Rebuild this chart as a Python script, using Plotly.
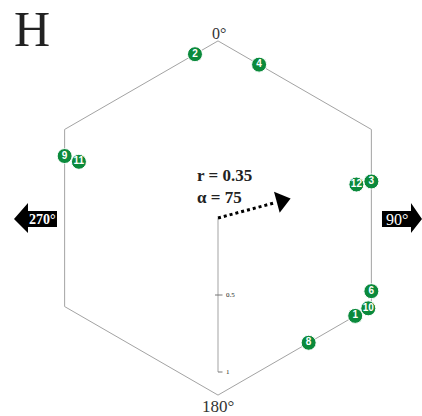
import numpy as np
import plotly.graph_objects as go

# sample numbers and their azimuths (degrees, clockwise from north)
labels = ["1", "2", "3", "4", "6", "8", "9", "10", "11", "12"]
azimuths = [125.5, 352, 76.6, 15, 115.5, 144, 292, 121, 292, 76.4]

# mean vector
mean_r = 0.35
mean_alpha = 75

# radial scale ticks
radial_ticks = [0.5, 1]
radial_tick_text = ["0.5", "1"]

# cardinal labels
cardinal_text = ["0°", "90°", "180°", "270°"]

W, H = 422, 416
SCALE = 154.0          # px per radial unit
CX, CY = 218, 218      # plot centre in px
HEX_R = 1.15           # hexagon circumradius (radial units)
ARROW_LEN = 0.48       # drawn length of the mean vector
GREEN = "#0b8a3c"
GREY = "#a3a3a3"


def px(x):
    return (x - CX) / SCALE


def py(y):
    return (CY - y) / SCALE


def edge_radius(az):
    d = (az % 60) - 30
    return HEX_R * np.cos(np.radians(30)) / np.cos(np.radians(d))


def main():
    fig = go.Figure()

    # hexagon outline
    ang = np.radians(np.arange(0, 361, 60))
    fig.add_trace(go.Scatter(
        x=HEX_R * np.sin(ang), y=HEX_R * np.cos(ang), mode="lines",
        line=dict(color=GREY, width=1), hoverinfo="skip"))

    # radial scale pointing to 180
    fig.add_trace(go.Scatter(
        x=[0, 0], y=[0, -max(radial_ticks)], mode="lines",
        line=dict(color=GREY, width=1), hoverinfo="skip"))
    tick = 3 / SCALE
    for t, txt in zip(radial_ticks, radial_tick_text):
        x0 = -tick if t < max(radial_ticks) else 0
        fig.add_shape(type="line", x0=x0, x1=tick * 1.5, y0=-t, y1=-t,
                      line=dict(color="#777", width=1))
        fig.add_annotation(x=tick * 2, y=-t, text=txt, showarrow=False,
                           xanchor="left", yanchor="middle",
                           font=dict(family="Liberation Serif", size=7, color="#222"))

    # sample points on the hexagon, stacked inward where they coincide
    xs, ys = [], []
    for i, az in enumerate(azimuths):
        level = sum(1 for a in azimuths[:i] if abs(a - az) < 3)
        r = edge_radius(az) - level * 0.1
        xs.append(r * np.sin(np.radians(az)))
        ys.append(r * np.cos(np.radians(az)))
    fig.add_trace(go.Scatter(
        x=xs, y=ys, mode="markers+text", text=labels,
        textposition="middle center",
        textfont=dict(family="Liberation Sans", size=10, color="white", weight="bold"),
        marker=dict(size=15, color=GREEN, line=dict(color="white", width=1)),
        hoverinfo="skip"))

    # mean vector: dotted shaft and head
    a = np.radians(mean_alpha)
    ux, uy = np.sin(a), np.cos(a)
    head = 15 / SCALE
    fig.add_trace(go.Scatter(
        x=[0, ux * (ARROW_LEN - head)], y=[0, uy * (ARROW_LEN - head)],
        mode="lines", line=dict(color="black", width=3, dash="dot"),
        hoverinfo="skip"))
    fig.add_trace(go.Scatter(
        x=[ux * (ARROW_LEN - head * 0.55)], y=[uy * (ARROW_LEN - head * 0.55)],
        mode="markers",
        marker=dict(symbol="triangle-up", size=19, color="black", angle=mean_alpha),
        hoverinfo="skip"))

    fig.add_annotation(
        x=px(195), y=py(186),
        text=f"<b>r = {mean_r}</b><br><b>α = {mean_alpha}</b>",
        showarrow=False, xanchor="left", yanchor="middle", align="left",
        font=dict(family="Liberation Serif", size=17, color="#222"))

    # side arrows (270 left, 90 right)
    def arrow_path(body0, body1, tip, ytop=211, ybot=227, htop=203, hbot=233):
        ymid = (ytop + ybot) / 2
        pts = [(body0, ytop), (body1, ytop), (body1, htop), (tip, ymid),
               (body1, hbot), (body1, ybot), (body0, ybot)]
        return "M " + " L ".join(f"{px(x):.4f},{py(y):.4f}" for x, y in pts) + " Z"

    fig.add_shape(type="path", path=arrow_path(57, 28, 14),
                  fillcolor="black", line=dict(width=0))
    fig.add_shape(type="path", path=arrow_path(382, 411, 422),
                  fillcolor="black", line=dict(width=0))
    fig.add_annotation(x=px(42), y=py(219), text="<b>" + cardinal_text[3] + "</b>",
                       showarrow=False,
                       font=dict(family="Liberation Serif", size=14, color="white"))
    fig.add_annotation(x=px(397), y=py(219), text=cardinal_text[1], showarrow=False,
                       font=dict(family="Liberation Serif", size=16, color="white"))

    # top and bottom labels
    fig.add_annotation(x=px(219), y=py(33), text=cardinal_text[0], showarrow=False,
                       font=dict(family="Liberation Serif", size=16, color="#333"))
    fig.add_annotation(x=px(218), y=py(406), text=cardinal_text[2], showarrow=False,
                       font=dict(family="Liberation Serif", size=17, color="#333"))

    # panel letter
    fig.add_annotation(x=px(32), y=py(29), text="H", showarrow=False,
                       font=dict(family="Liberation Serif", size=50, color="#222"))

    fig.update_layout(
        width=W, height=H, autosize=False,
        margin=dict(l=0, r=0, t=0, b=0),
        paper_bgcolor="white", plot_bgcolor="white",
        showlegend=False,
        xaxis=dict(range=[px(0), px(W)], visible=False, fixedrange=True),
        yaxis=dict(range=[py(H), py(0)], visible=False, fixedrange=True),
    )

    # drop the browser's default body margin so the figure fills the window
    fig.write_html("out.html", config={"displayModeBar": False},
                   post_script="document.body.style.margin='0';")


if __name__ == "__main__":
    main()
